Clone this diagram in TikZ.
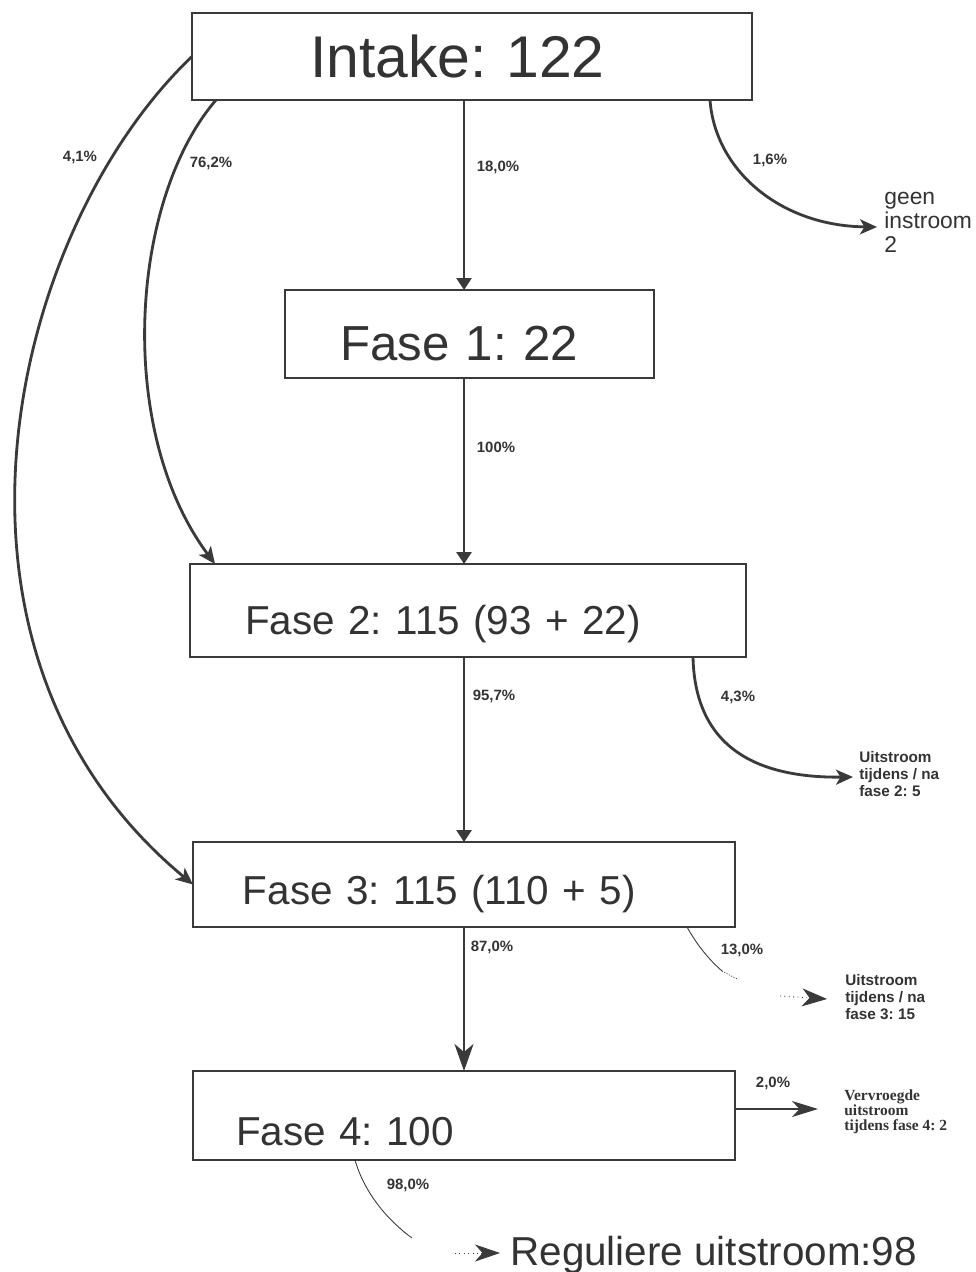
\documentclass[tikz,border=0pt]{standalone}
\usepackage{fontspec}
\setmainfont{Liberation Sans}
\newfontfamily\serifnote{Liberation Serif}
\usepackage{xcolor}
\definecolor{flowdark}{HTML}{3A3A3A}
\definecolor{flowtext}{HTML}{333333}
\usetikzlibrary{arrows.meta,positioning,calc}
\frenchspacing

\begin{document}
\begin{tikzpicture}[x=0.2mm,y=-0.2mm]
\tikzset{
 flowbox/.style={draw=flowdark,line width=1.6pt,align=left,inner ysep=0pt,outer sep=0pt,text=flowtext},
 pct/.style={font=\bfseries\fontsize{8.5}{10}\selectfont,text=flowtext,inner sep=0pt},
 sidetext/.style={align=left,anchor=west,inner sep=0pt,text=flowtext},
 spinearrow/.style={draw=flowdark,line width=1.6pt,-{Triangle[length=2.4mm,width=3mm]}},
 curvearrow/.style={draw=flowdark,line width=1.6pt,-{Stealth[length=3.4mm,width=3mm,inset=0.9mm]}},
 thinline/.style={draw=flowdark,line width=0.5pt}
}
\useasboundingbox (0,0) rectangle (976,1272);
% boxes
\node[flowbox,font=\fontsize{33.5}{36}\selectfont,text width=64.8mm,inner xsep=23.6mm,text height=13mm,text depth=4.4mm] (intake) at (472,56.5) {Intake: 122};
\node[flowbox,font=\fontsize{28}{32}\selectfont,text width=51.8mm,inner xsep=11mm,text height=14mm,text depth=3.6mm] (fase1) at (469.5,334) {Fase 1: 22};
\node[flowbox,font=\fontsize{23}{26}\selectfont,text width=89.2mm,inner xsep=11mm,text height=14mm,text depth=4.6mm] (fase2) at (468,610.5) {Fase 2: 115 (93 + 22)};
\node[flowbox,font=\fontsize{23}{26}\selectfont,text width=88.4mm,inner xsep=10mm,text height=12.4mm,text depth=4.6mm] (fase3) at (464,884.5) {Fase 3: 115 (110 + 5)};
\node[flowbox,line width=0.8pt,font=\fontsize{23}{26}\selectfont,text width=91.2mm,inner xsep=8.6mm,text height=14.8mm,text depth=3mm] (fase4) at (464,1115.5) {Fase 4: 100};
% uitstroom texts
\node[sidetext,font=\fontsize{13}{13.6}\selectfont] (geen) at (884,222) {geen\\instroom\\2};
\node[sidetext,font=\bfseries\fontsize{8.7}{9.7}\selectfont] (uit2) at (859,774) {Uitstroom\\tijdens / na\\fase 2: 5};
\node[sidetext,font=\bfseries\fontsize{8.7}{9.7}\selectfont] (uit3) at (845,997) {Uitstroom\\tijdens / na\\fase 3: 15};
\node[sidetext,font=\serifnote\bfseries\fontsize{8.8}{8.4}\selectfont] (vervr) at (844,1112) {Vervroegde\\uitstroom\\tijdens fase 4: 2};
\node[sidetext,anchor=base west,font=\fontsize{23}{26}\selectfont] (regul) at (510,1265) {Reguliere uitstroom:98};
% percentages
\node[pct] (p18) at (498,167) {18,0\%};
\node[pct] (p762) at (211,163) {76,2\%};
\node[pct] (p41) at (80,157) {4,1\%};
\node[pct] (p16) at (770,160) {1,6\%};
\node[pct] (p100) at (496,447) {100\%};
\node[pct] (p957) at (494,696) {95,7\%};
\node[pct] (p43) at (738,697) {4,3\%};
\node[pct] (p870) at (492,947) {87,0\%};
\node[pct] (p130) at (742,950) {13,0\%};
\node[pct] (p20) at (773,1083) {2,0\%};
\node[pct] (p980) at (408,1185) {98,0\%};
% arrow ends
\coordinate (spine) at (464,0);
\coordinate (e16) at (877,227);
\coordinate (e43) at (853,777);
\coordinate (e20) at (818,1109);
\coordinate (m13) at (722,971);
\coordinate (t13) at (737,979);
\coordinate (s13) at (780,996);
\coordinate (e13) at (827,999);
\coordinate (t98) at (412,1238);
\coordinate (s98) at (455,1253);
\coordinate (e98) at (500,1253);
% connectors
\foreach \i/\j in {intake/fase1,fase1/fase2,fase2/fase3}{\draw[spinearrow] (\i.south -| spine)--(\j.north -| spine);}
\draw[draw=flowdark,line width=1.6pt,-{Stealth[length=5.4mm,width=3.8mm,inset=1.6mm]}] (fase3.south -| spine)--(fase4.north -| spine);
\draw[curvearrow] (intake.west) .. controls (10,230) and (-90,650) .. (fase3.west);
\draw[curvearrow] ($(intake.south west)+(24,0)$) .. controls (130,200) and (115,430) .. ($(fase2.north west)+(25,0)$);
\draw[curvearrow] ($(intake.south west)+(518,0)$) .. controls (715,170) and (780,226) .. (e16);
\draw[curvearrow] ($(fase2.south west)+(503,0)$) .. controls (695,750) and (760,778) .. (e43);
\draw[thinline] ($(fase3.south west)+(494,0)$) .. controls (700,950) and (712,962) .. (m13);
\draw[thinline,densely dotted] (m13)--(t13);
\draw[thinline,dotted,-{Stealth[length=5mm,width=3.6mm,inset=1.5mm]}] (s13)--(e13);
\draw[thinline,line width=0.7pt,-{Stealth[length=5.2mm,width=3.2mm,inset=1.5mm]}] (fase4.east |- e20)--(e20);
\draw[thinline] ($(fase4.south west)+(162,0)$) .. controls (365,1195) and (390,1222) .. (t98);
\draw[thinline,dotted,-{Stealth[length=5mm,width=3.4mm,inset=1.5mm]}] (s98)--(e98);
\end{tikzpicture}
\end{document}
